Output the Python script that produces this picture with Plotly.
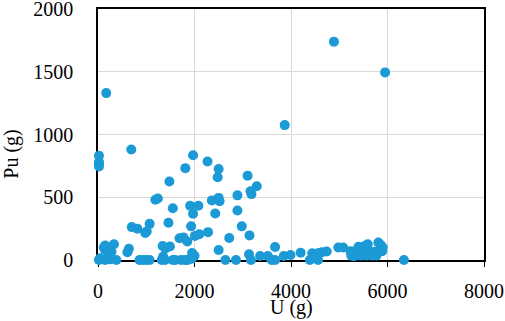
import plotly.graph_objects as go

# U (g) and Pu (g)
u_grams = [
    170, 4890, 5950, 3870,
    20, 20, 20, 20,
    690, 1970, 2270, 1810, 2500, 2480, 3100, 3290, 3160, 3180, 2890, 2500,
    2360, 1480, 1190, 1240, 1550, 1910, 2080, 1970, 2520, 2430, 2890,
    700, 815, 1070, 1010, 980, 1460, 1930, 2980,
    1690, 1770, 1850, 2010, 2100, 2280, 2720, 3140,
    150, 330, 640, 610, 1340, 1490, 1400, 215, 145, 280, 120,
    2500, 1950, 2000, 1350, 3130, 3360, 3520, 3670, 3850, 3990, 4200,
    4440, 4500, 4570, 4640, 4740, 4980, 5080, 5230,
    20, 40, 145, 250, 380, 860, 930, 1000, 1070, 1320, 1390, 1550, 1600,
    1720, 1800, 1860, 1940, 2640, 2860, 3170, 3600, 3670, 4390, 4560, 6340,
    5290, 5330, 5360, 5400, 5430, 5450, 5500, 5530, 5560, 5590, 5600, 5640,
    5680, 5740, 5770, 5810, 5860, 5890, 5900, 5300, 5250, 5480, 5550,
]
pu_grams = [
    1330, 1740, 1495, 1075,
    830, 780, 760, 745,
    880, 835, 785, 732, 725, 660, 672, 588, 548, 525, 515, 495,
    475, 625, 480, 490, 413, 432, 432, 368, 468, 370, 395,
    262, 250, 288, 228, 215, 297, 268, 268,
    173, 180, 148, 192, 205, 222, 175, 196,
    115, 125, 90, 62, 112, 108, 92, 66, 80, 66, 100,
    80, 55, 33, 28, 45, 32, 32, 103, 32, 40, 58,
    53, 20, 55, 62, 68, 100, 100, 70,
    0, 13, 0, 5, 0, 0, 0, 0, 0, 0, 0, 0, 0,
    0, 0, 0, 10, 0, 0, 0, 0, 0, 0, 0, 0,
    50, 35, 80, 105, 90, 35, 45, 112, 35, 125, 80, 45,
    35, 66, 35, 140, 120, 70, 100, 30, 35, 60, 60,
]

fig = go.Figure()

fig.add_trace(
    go.Scatter(
        x=u_grams,
        y=pu_grams,
        mode='markers',
        marker=dict(color='#1b9ad6', size=10),
        cliponaxis=False,
        showlegend=False
    )
)

serif = dict(family='Liberation Serif', size=20, color='black')

fig.update_layout(
    width=505,
    height=321,
    margin=dict(l=98, r=21, t=9, b=61),
    paper_bgcolor='white',
    plot_bgcolor='white',
    font=serif
)

# axis titles as annotations so they sit where the reference has them
fig.add_annotation(text='U (g)', xref='paper', yref='paper', x=0.5, y=-0.19,
                   xanchor='center', yanchor='middle', showarrow=False, font=serif)
fig.add_annotation(text='Pu (g)', xref='paper', yref='paper', x=-0.225, y=0.42,
                   xanchor='center', yanchor='middle', textangle=-90,
                   showarrow=False, font=serif)

fig.update_xaxes(
    tickfont=serif,
    automargin=False,
    ticklabeloverflow='allow',
    range=[0, 8000],
    tickvals=[0, 2000, 4000, 6000, 8000],
    showgrid=True,
    gridcolor='#d9d9d9',
    gridwidth=1,
    zeroline=False,
    showline=True,
    linecolor='black',
    linewidth=1.5,
    mirror=True,
    ticks='outside',
    ticklen=5,
    tickcolor='black',
    ticklabelstandoff=7,
    layer='below traces'
)

fig.update_yaxes(
    tickfont=serif,
    automargin=False,
    ticklabeloverflow='allow',
    range=[0, 2000],
    tickvals=[0, 500, 1000, 1500, 2000],
    showgrid=True,
    gridcolor='#d9d9d9',
    gridwidth=1,
    zeroline=False,
    showline=True,
    linecolor='black',
    linewidth=1.5,
    mirror=True,
    ticks='',
    ticklabelstandoff=19,
    layer='below traces'
)

# the page's default body margin would shift the chart by 8px
fig.write_html("out.html", config={'displayModeBar': False},
               post_script="document.body.style.margin='0';")
